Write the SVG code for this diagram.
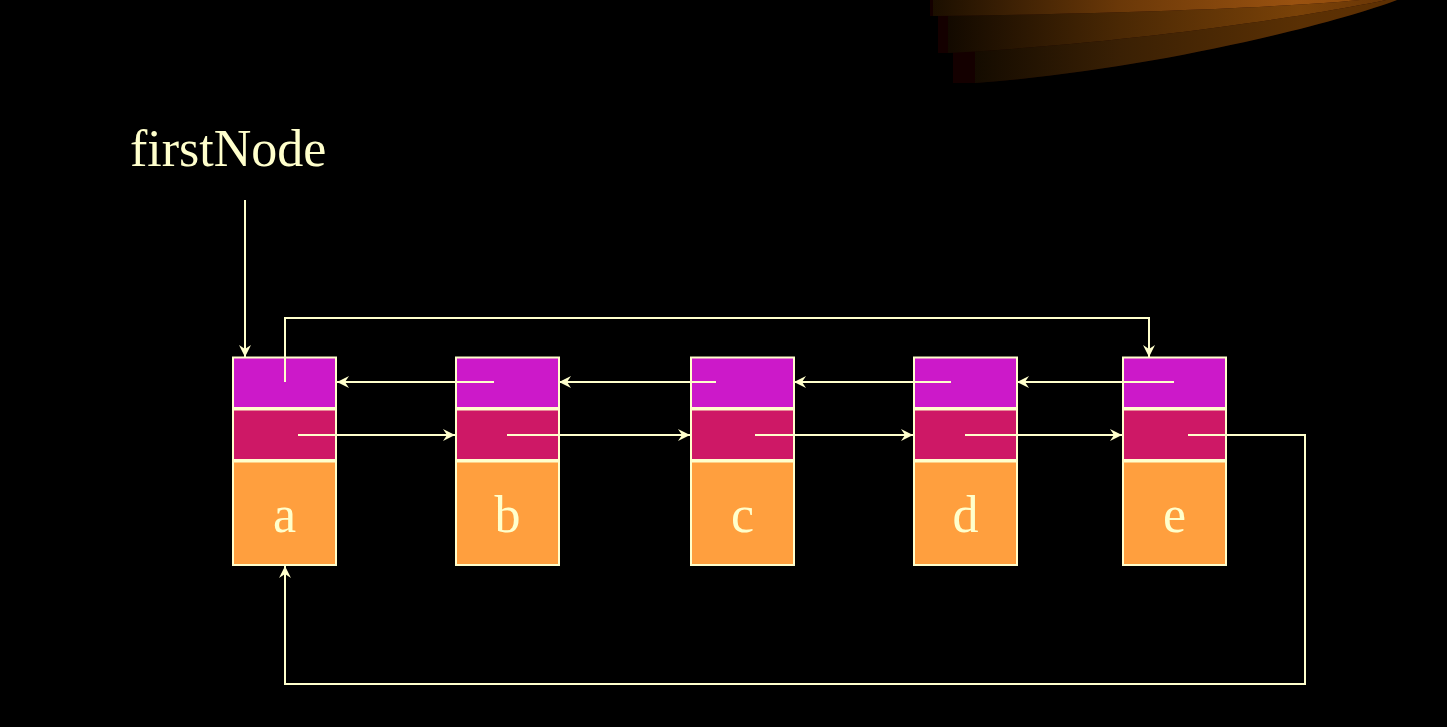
<svg xmlns="http://www.w3.org/2000/svg" width="1447" height="727" viewBox="0 0 1447 727">
<style>
.ln{fill:none;stroke:#FFFFCC;stroke-width:2}
.bx{stroke:#FFFFCC;stroke-width:2}
.m{fill:#CC19C9}
.c{fill:#CE1866}
.o{fill:#FF9F3E}
.t{font-family:"Liberation Serif","Times New Roman",serif;fill:#FFFFCC}
.lbl{font-size:52px;text-anchor:middle}
</style>
<defs>
<marker id="ah" markerUnits="userSpaceOnUse" markerWidth="14" markerHeight="12" refX="12" refY="6" orient="auto">
<path d="M0,0 L12,6 L0,12 L4,6 Z" fill="#FFFFCC"/>
</marker>
<linearGradient id="g1" gradientUnits="userSpaceOnUse" x1="950" y1="0" x2="1400" y2="0">
<stop offset="0" stop-color="#0e0800"/>
<stop offset="0.38" stop-color="#3a2004"/>
<stop offset="0.78" stop-color="#5a3004"/>
<stop offset="1" stop-color="#5e3002"/>
</linearGradient>
<linearGradient id="g2" gradientUnits="userSpaceOnUse" x1="940" y1="0" x2="1390" y2="0">
<stop offset="0" stop-color="#100800"/>
<stop offset="0.4" stop-color="#4a2804"/>
<stop offset="0.8" stop-color="#7a4208"/>
<stop offset="1" stop-color="#6a3606"/>
</linearGradient>
<linearGradient id="g3" gradientUnits="userSpaceOnUse" x1="930" y1="0" x2="1400" y2="0">
<stop offset="0" stop-color="#1a0e00"/>
<stop offset="0.4" stop-color="#6a3808"/>
<stop offset="0.78" stop-color="#9a5210"/>
<stop offset="1" stop-color="#8a4808"/>
</linearGradient>
</defs>
<rect width="1447" height="727" fill="#000"/>
<g id="swoosh">
<path d="M953,0 L953,83 L975,83 C1150,70 1330,25 1397,0 Z" fill="#140000"/>
<path d="M975,0 L975,83 C1150,70 1330,25 1397,0 Z" fill="url(#g1)"/>
<path d="M938,0 L938,53 L948,53 C1150,42 1330,12 1386,0 Z" fill="#140000"/>
<path d="M948,0 L948,53 C1150,42 1330,12 1386,0 Z" fill="url(#g2)"/>
<path d="M930,0 L930,16 L933,16 C1100,14 1280,8 1360,0 Z" fill="#140000"/>
<path d="M933,0 L933,16 C1100,14 1280,8 1360,0 Z" fill="url(#g3)"/>
</g>
<text id="firstNode" class="t" x="130" y="166" font-size="52">firstNode</text>
<g id="node-a">
<rect class="bx m" x="233" y="357.5" width="103" height="50.5"/>
<rect class="bx c" x="233" y="409.5" width="103" height="50.5"/>
<rect class="bx o" x="233" y="461.5" width="103" height="103.5"/>
<text class="t lbl" x="284.5" y="532">a</text>
</g>
<g id="node-b">
<rect class="bx m" x="456" y="357.5" width="103" height="50.5"/>
<rect class="bx c" x="456" y="409.5" width="103" height="50.5"/>
<rect class="bx o" x="456" y="461.5" width="103" height="103.5"/>
<text class="t lbl" x="507.5" y="532">b</text>
</g>
<g id="node-c">
<rect class="bx m" x="691" y="357.5" width="103" height="50.5"/>
<rect class="bx c" x="691" y="409.5" width="103" height="50.5"/>
<rect class="bx o" x="691" y="461.5" width="103" height="103.5"/>
<text class="t lbl" x="742.5" y="532">c</text>
</g>
<g id="node-d">
<rect class="bx m" x="914" y="357.5" width="103" height="50.5"/>
<rect class="bx c" x="914" y="409.5" width="103" height="50.5"/>
<rect class="bx o" x="914" y="461.5" width="103" height="103.5"/>
<text class="t lbl" x="965.5" y="532">d</text>
</g>
<g id="node-e">
<rect class="bx m" x="1123" y="357.5" width="103" height="50.5"/>
<rect class="bx c" x="1123" y="409.5" width="103" height="50.5"/>
<rect class="bx o" x="1123" y="461.5" width="103" height="103.5"/>
<text class="t lbl" x="1174.5" y="532">e</text>
</g>
<g id="connectors">
<path class="ln" d="M245,200 V357" marker-end="url(#ah)"/>
<path class="ln" d="M285,382 V318 H1149 V357" marker-end="url(#ah)"/>
<path class="ln" d="M494,382 H337" marker-end="url(#ah)"/>
<path class="ln" d="M716,382 H559" marker-end="url(#ah)"/>
<path class="ln" d="M951,382 H794" marker-end="url(#ah)"/>
<path class="ln" d="M1174,382 H1017" marker-end="url(#ah)"/>
<path class="ln" d="M298,435 H455" marker-end="url(#ah)"/>
<path class="ln" d="M507,435 H690" marker-end="url(#ah)"/>
<path class="ln" d="M755,435 H913" marker-end="url(#ah)"/>
<path class="ln" d="M965,435 H1122" marker-end="url(#ah)"/>
<path class="ln" d="M1188,435 H1305 V684 H285 V566" marker-end="url(#ah)"/>
</g>
</svg>
